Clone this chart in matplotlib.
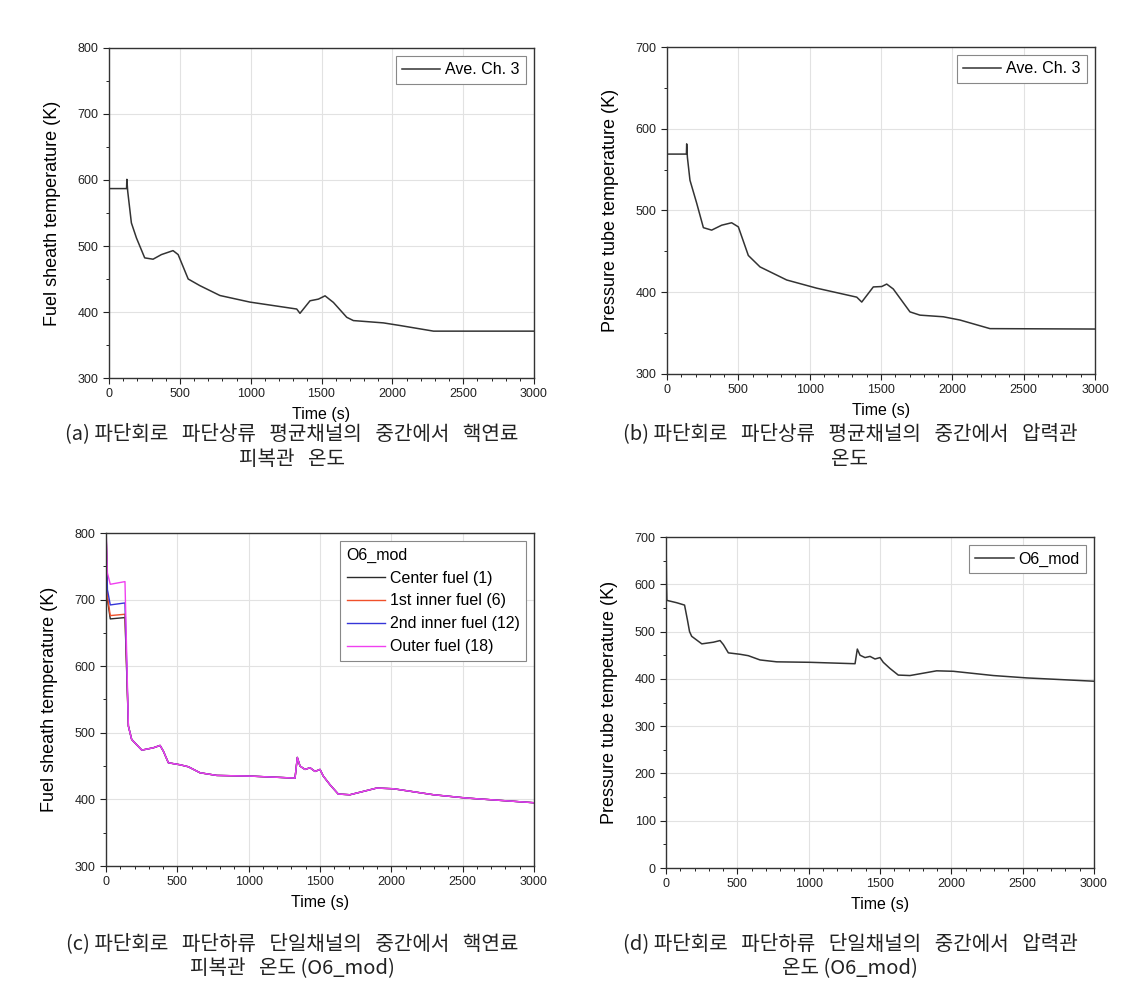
import numpy as np
import matplotlib
matplotlib.use("Agg")
import matplotlib.pyplot as plt
from matplotlib.ticker import MultipleLocator

plt.rcParams['font.family'] = ['Liberation Sans', 'Noto Sans CJK KR', 'DejaVu Sans']

# (a) fuel sheath temperature, average channel 3
t_a = [0, 124, 126, 132, 158, 194, 252, 311, 370, 452, 488, 559, 641, 783, 995,
       1325, 1348, 1419, 1478, 1525, 1584, 1678, 1725, 1937, 2055, 2291, 3000]
T_a = [587, 587, 601, 583, 535, 512, 482, 480, 487, 493, 487, 450, 440, 425, 415,
       404.5, 398, 417, 419.5, 424.5, 414.5, 392, 387, 383.5, 379.5, 371, 371]

# (b) pressure tube temperature, average channel 3
t_b = [0, 136, 138, 143, 161, 208, 255, 313, 383, 453, 500, 570, 652, 839, 1049,
       1330, 1365, 1400, 1446, 1505, 1540, 1586, 1703, 1773, 1937, 2054, 2264, 3000]
T_b = [569, 569, 581.5, 565, 537, 509, 479, 476, 482, 485, 480, 445, 431, 415, 405,
       394, 388, 396, 406.5, 407, 410, 404, 376, 372, 370, 366, 355.5, 355]

# (c)/(d) single channel O6_mod, common part after the blowdown drop
t_tail = [180, 251, 332, 379, 402, 437, 519, 577, 659, 776, 1009, 1325, 1341, 1360,
          1395, 1430, 1465, 1500, 1523, 1570, 1628, 1710, 1897, 2014, 2295, 2529, 3000]
T_tail = [490, 474, 477.5, 481, 472.5, 455, 452, 449, 440, 436, 435, 432, 463, 450,
          445, 447.5, 442, 445, 435, 422, 408, 407, 417, 416, 407, 402, 395]

# (c) early part of each fuel ring
t_head_c = [0, 10, 30, 133, 157, 165]
T_center = [810, 700, 671, 673, 510, 503]
T_inner1 = [810, 705, 676, 678, 510, 503]
T_inner2 = [810, 715, 692, 695, 510, 503]
T_outer = [810, 740, 723, 727, 510, 503]
fuel_labels = ['Center fuel (1)', '1st inner fuel (6)', '2nd inner fuel (12)', 'Outer fuel (18)']
fuel_colors = ['#2a2a2a', '#f0502a', '#3535d8', '#f040f0']

# (d) pressure tube early part
t_head_d = [0, 3, 6, 75, 130, 150, 165]
T_head_d = [720, 610, 566, 561, 556, 525, 500]

captions = [
    ["(a) 파단회로   파단상류   평균채널의   중간에서   핵연료", "피복관   온도"],
    ["(b) 파단회로   파단상류   평균채널의   중간에서   압력관", "온도"],
    ["(c) 파단회로   파단하류   단일채널의   중간에서   핵연료", "피복관   온도 (O6_mod)"],
    ["(d) 파단회로   파단하류   단일채널의   중간에서   압력관", "온도 (O6_mod)"],
]

W, H = 1145, 997
fig = plt.figure(figsize=(W / 100, H / 100), dpi=100)


def px_axes(l, t, r, b):
    return fig.add_axes([l / W, 1 - b / H, (r - l) / W, (b - t) / H])


def style(ax, ylo, yhi, ylabel):
    ax.set_xlim(0, 3000)
    ax.set_ylim(ylo, yhi)
    ax.xaxis.set_major_locator(MultipleLocator(500))
    ax.xaxis.set_minor_locator(MultipleLocator(100))
    ax.yaxis.set_major_locator(MultipleLocator(100))
    ax.yaxis.set_minor_locator(MultipleLocator(50))
    ax.tick_params(which='major', direction='out', length=4, width=0.8, labelsize=9,
                   colors='#222222')
    ax.tick_params(which='minor', direction='out', length=2, width=0.6)
    ax.grid(True, which='major', color='#e2e2e2', lw=0.8)
    ax.set_axisbelow(True)
    for s in ax.spines.values():
        s.set_linewidth(1.0)
        s.set_color('#333333')
    ax.set_xlabel('Time (s)', fontsize=11.5, labelpad=5)
    ax.set_ylabel(ylabel, fontsize=13, labelpad=12)


def leg(ax, **kw):
    lg = ax.legend(loc='upper right', fancybox=False, edgecolor='#888888',
                   framealpha=1, borderaxespad=0.5, handlelength=2.4,
                   handletextpad=0.3, **kw)
    lg.get_frame().set_linewidth(0.8)
    return lg


ax_a = px_axes(109, 48, 534, 378)
ax_a.plot(t_a, T_a, color='#333333', lw=1.1, label='Ave. Ch. 3')
style(ax_a, 300, 800, 'Fuel sheath temperature (K)')
leg(ax_a, fontsize=11.5)

ax_b = px_axes(667, 47, 1095, 374)
ax_b.plot(t_b, T_b, color='#333333', lw=1.1, label='Ave. Ch. 3')
style(ax_b, 300, 700, 'Pressure tube temperature (K)')
leg(ax_b, fontsize=11.5)

ax_c = px_axes(106, 533, 534, 866)
for T_head, lab, col in zip([T_center, T_inner1, T_inner2, T_outer], fuel_labels, fuel_colors):
    ax_c.plot(t_head_c + t_tail, T_head + T_tail, color=col, lw=1.0, label=lab)
style(ax_c, 300, 800, 'Fuel sheath temperature (K)')
leg(ax_c, fontsize=11.5, title='O6_mod', title_fontsize=11.5, alignment='left')

ax_d = px_axes(666, 537, 1094, 868)
ax_d.plot(t_head_d + t_tail, T_head_d + T_tail, color='#333333', lw=1.1, label='O6_mod')
style(ax_d, 0, 700, 'Pressure tube temperature (K)')
leg(ax_d, fontsize=11.5)

cap_pos = [(292, 434), (850, 434), (292, 944), (850, 944)]
for (cx, cy), lines in zip(cap_pos, captions):
    for i, txt in enumerate(lines):
        fig.text(cx / W, 1 - (cy + 25 * i) / H, txt, ha='center', va='center',
                 fontsize=14.5, family=['Noto Sans CJK KR', 'DejaVu Sans'],
                 color='#222222')

fig.savefig('out.png', dpi=100)
